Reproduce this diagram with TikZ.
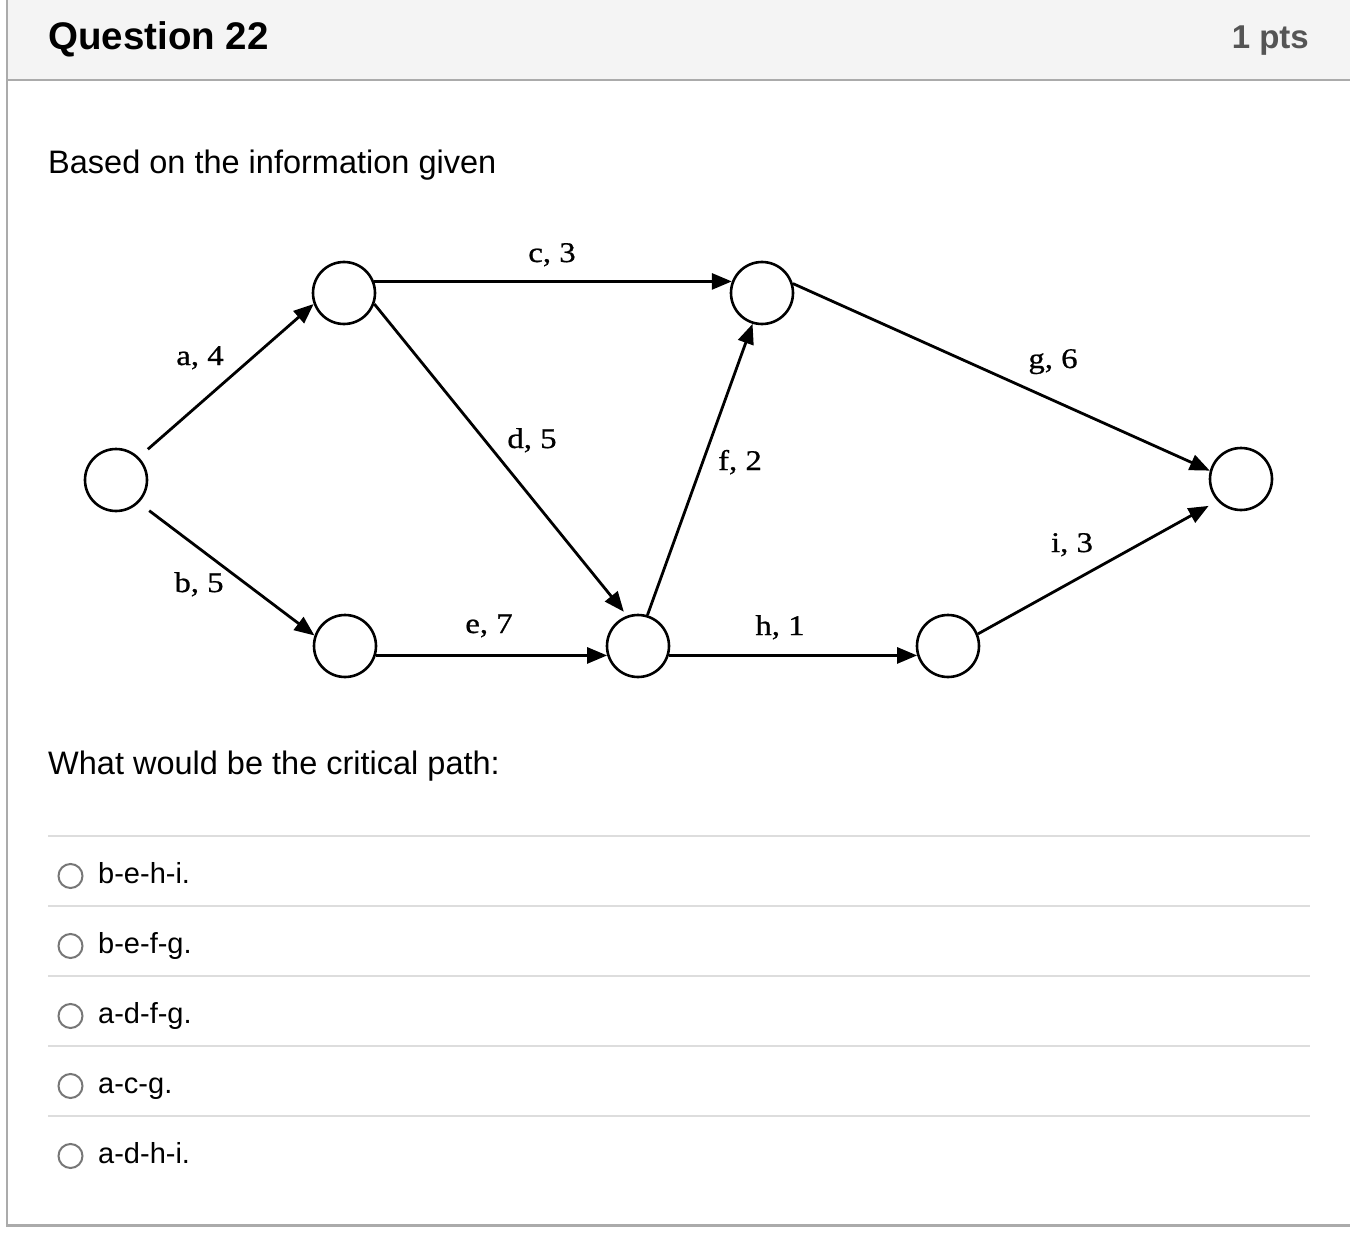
\documentclass[tikz,border=0pt]{standalone}
\usepackage{fontspec}
\setmainfont{Liberation Sans}
\newfontfamily\lblfont[FakeStretch=1.15,FakeBold=0.8]{Liberation Serif}
\usetikzlibrary{arrows.meta}
\definecolor{hdrbg}{HTML}{F4F4F4}
\definecolor{framegray}{HTML}{ABABAB}
\definecolor{sepgray}{HTML}{DDDDDD}
\definecolor{radiogray}{HTML}{777777}
\definecolor{ptsgray}{HTML}{555555}
\begin{document}
\begin{tikzpicture}[x=1pt,y=-1pt,
  event/.style={circle, draw, line width=2.6pt, minimum size=62pt, inner sep=0pt},
  act/.style={line width=2.8pt, -{Triangle[length=20pt,width=16pt]}},
  lbl/.style={font=\lblfont\fontsize{28.5}{32}\selectfont, anchor=base, inner sep=0pt},
  body/.style={font=\fontsize{32.5}{38}\selectfont, anchor=base west, inner sep=0pt},
  opt/.style={font=\fontsize{29}{34}\selectfont, anchor=base west, inner sep=0pt},
  radiobtn/.style={circle, draw=radiogray, line width=2pt, minimum size=24pt, inner sep=0pt},
  sepline/.style={draw=sepgray, line width=2pt},
  frameline/.style={draw=framegray, line width=2.2pt}
]
\useasboundingbox (0,0) rectangle (1350,1236);
% header
\fill[hdrbg] (8,0) rectangle (1350,79);
\draw[frameline] (7,80) -- (1350,80);
\draw[frameline] (7,0) -- (7,1225.5) -- (1350,1225.5);
\node[font=\bfseries\fontsize{38.5}{42}\selectfont, anchor=base west, inner sep=0pt] (qtitle) at (48,50) {Question 22};
\node[font=\bfseries\fontsize{33}{38}\selectfont, text=ptsgray, anchor=base east, inner sep=0pt] (qpts) at (1309,49) {1 pts};
\node[body] (intro) at (48,174) {Based on the information given};
\node[body] (ask) at (48,774) {What would be the critical path:};
% network
\node[event] (S) at (116,480) {};
\node[event] (A) at (344,293) {};
\node[event] (B) at (345,646) {};
\node[event] (C) at (762,293) {};
\node[event] (D) at (638,646) {};
\node[event] (E) at (948,646) {};
\node[event] (F) at (1241,479) {};
\draw[act, shorten <=12pt] (S.45) -- (A.200);
\draw[act, shorten <=13pt] (S.-45) -- (B.161);
\draw[act] (A.21) -- (C.159);
\draw[act, shorten >=5pt] (A.-20) -- (D.110);
\draw[act] (B.-17) -- (D.197);
\draw[act] (D.73) -- (C.253);
\draw[act] (C.17) -- (F.165);
\draw[act] (D.-17) -- (E.197);
\draw[act, shorten >=10pt] (E.22) -- (F.223);
\node[lbl] (la) at (200,365) {a, 4};
\node[lbl] (lb) at (199,592) {b, 5};
\node[lbl] (lc) at (552,262) {c, 3};
\node[lbl] (ld) at (532,448) {d, 5};
\node[lbl] (le) at (489,633) {e, 7};
\node[lbl] (lf) at (740,470) {f, 2};
\node[lbl] (lg) at (1053,368) {g, 6};
\node[lbl] (lh) at (780,635) {h, 1};
\node[lbl] (li) at (1072,552) {i, 3};
% answer options
\foreach \k/\txt in {0/b-e-h-i., 1/b-e-f-g., 2/a-d-f-g., 3/a-c-g., 4/a-d-h-i.}{
  \draw[sepline] (48,836+70*\k) -- (1310,836+70*\k);
  \node[radiobtn] (r\k) at (70.5,876+70*\k) {};
  \node[opt] (o\k) at (98,883+70*\k) {\txt};
}
\end{tikzpicture}
\end{document}
